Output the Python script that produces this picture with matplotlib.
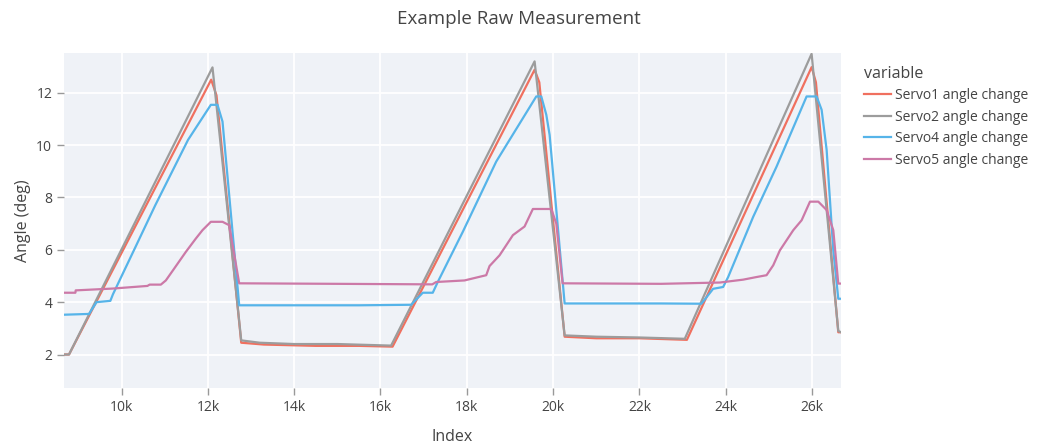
"""Example raw measurement: servo angle change against sample index."""
import matplotlib.pyplot as plt
from matplotlib.ticker import FuncFormatter, MultipleLocator

# breakpoints (index, angle in deg)
servo1_idx = [8666, 8782, 12077, 12200, 12773, 13300, 14500, 15500, 16280,
              19571, 19680, 20267, 21000, 22000, 23100,
              25990, 26090, 26608, 26671]
servo1_val = [2.0, 2.0, 12.5, 11.9, 2.45, 2.38, 2.33, 2.33, 2.3,
              12.88, 12.4, 2.68, 2.62, 2.62, 2.56,
              12.98, 12.4, 2.85, 2.85]

servo2_idx = [8666, 8782, 12107, 12773, 13200, 14000, 15000, 16246,
              19571, 20267, 21000, 22000, 23051,
              25990, 26608, 26671]
servo2_val = [2.0, 2.0, 12.97, 2.54, 2.45, 2.4, 2.4, 2.34,
              13.2, 2.73, 2.68, 2.65, 2.6,
              13.49, 2.9, 2.85]

servo4_idx = [8666, 9246, 9420, 9740, 9800, 10320, 10780, 11540, 12069, 12223, 12339, 12726,
              14000, 15500, 16710, 16980, 17211, 17327, 17908, 18681, 19610, 19726, 19842,
              19919, 20267, 21500, 22500, 23438, 23708, 23940, 24056, 24636, 25178, 25874,
              26106, 26222, 26338, 26492, 26608, 26671]
servo4_val = [3.52, 3.55, 4.0, 4.05, 4.3, 6.1, 7.7, 10.2, 11.54, 11.54, 10.9, 3.88,
              3.88, 3.88, 3.9, 4.36, 4.36, 4.77, 6.69, 9.37, 11.86, 11.86, 11.16,
              10.39, 3.95, 3.95, 3.95, 3.94, 4.51, 4.58, 4.96, 7.26, 9.18, 11.86,
              11.86, 11.35, 9.82, 5.98, 4.13, 4.13]

servo5_idx = [8666, 8930, 8937, 9800, 10599, 10650, 10910, 11026, 11218, 11489, 11721, 11875,
              12069, 12339, 12494, 12726, 15000, 17200, 17290, 17947, 18450, 18527, 18759,
              19068, 19338, 19531, 19958, 20074, 20220, 22500, 23863, 24404, 24714, 24946,
              25101, 25255, 25565, 25759, 25952, 26145, 26338, 26492, 26608, 26671]
servo5_val = [4.36, 4.36, 4.45, 4.52, 4.62, 4.67, 4.67, 4.83, 5.28, 5.92, 6.43, 6.75,
              7.07, 7.07, 6.94, 4.72, 4.7, 4.68, 4.77, 4.83, 5.03, 5.38, 5.79,
              6.56, 6.89, 7.56, 7.56, 7.0, 4.72, 4.7, 4.75, 4.86, 4.96, 5.03,
              5.41, 5.98, 6.75, 7.13, 7.84, 7.84, 7.52, 6.75, 4.71, 4.71]

series = [
    ("Servo1 angle change", servo1_idx, servo1_val, "#F0705F"),
    ("Servo2 angle change", servo2_idx, servo2_val, "#9C9C9C"),
    ("Servo4 angle change", servo4_idx, servo4_val, "#56B4E9"),
    ("Servo5 angle change", servo5_idx, servo5_val, "#CC79A7"),
]

TEXT = "#444444"
plt.rcParams["font.family"] = ["Open Sans", "DejaVu Sans"]

fig = plt.figure(figsize=(10.38, 4.46), dpi=100)
ax = fig.add_axes([64 / 1038, 1 - 388 / 446, (841 - 64) / 1038, (388 - 53) / 446])
ax.set_facecolor("#EFF2F7")

for name, idx, val, color in series:
    ax.plot(idx, val, color=color, linewidth=1.6, label=name)

ax.set_xlim(8666, 26671)
ax.set_ylim(0.72, 13.52)
ax.xaxis.set_major_locator(MultipleLocator(2000))
ax.yaxis.set_major_locator(MultipleLocator(2))
ax.xaxis.set_major_formatter(FuncFormatter(lambda v, _: f"{int(v / 1000)}k"))
ax.grid(True, color="white", linewidth=1.3)
ax.set_axisbelow(True)
for s in ax.spines.values():
    s.set_visible(False)
ax.tick_params(axis="both", colors="#999999", length=5, width=1, labelsize=10,
               labelcolor=TEXT)

ax.set_xlabel("Index", fontsize=11.5, color=TEXT, labelpad=10)
ax.set_ylabel("Angle (deg)", fontsize=11.5, color=TEXT, labelpad=4)
fig.text(519 / 1038, 1 - 19 / 446, "Example Raw Measurement", ha="center", va="center",
         fontsize=13.5, color=TEXT)

leg = fig.legend(loc="upper left", bbox_to_anchor=(851 / 1038, 1 - 53 / 446), frameon=False,
                 title="variable", fontsize=10, title_fontsize=11.5, handlelength=2.0,
                 handletextpad=0.3, labelspacing=0.47, alignment="left")
for t in leg.get_texts():
    t.set_color(TEXT)
leg.get_title().set_color(TEXT)

fig.savefig("out.png", dpi=100)
